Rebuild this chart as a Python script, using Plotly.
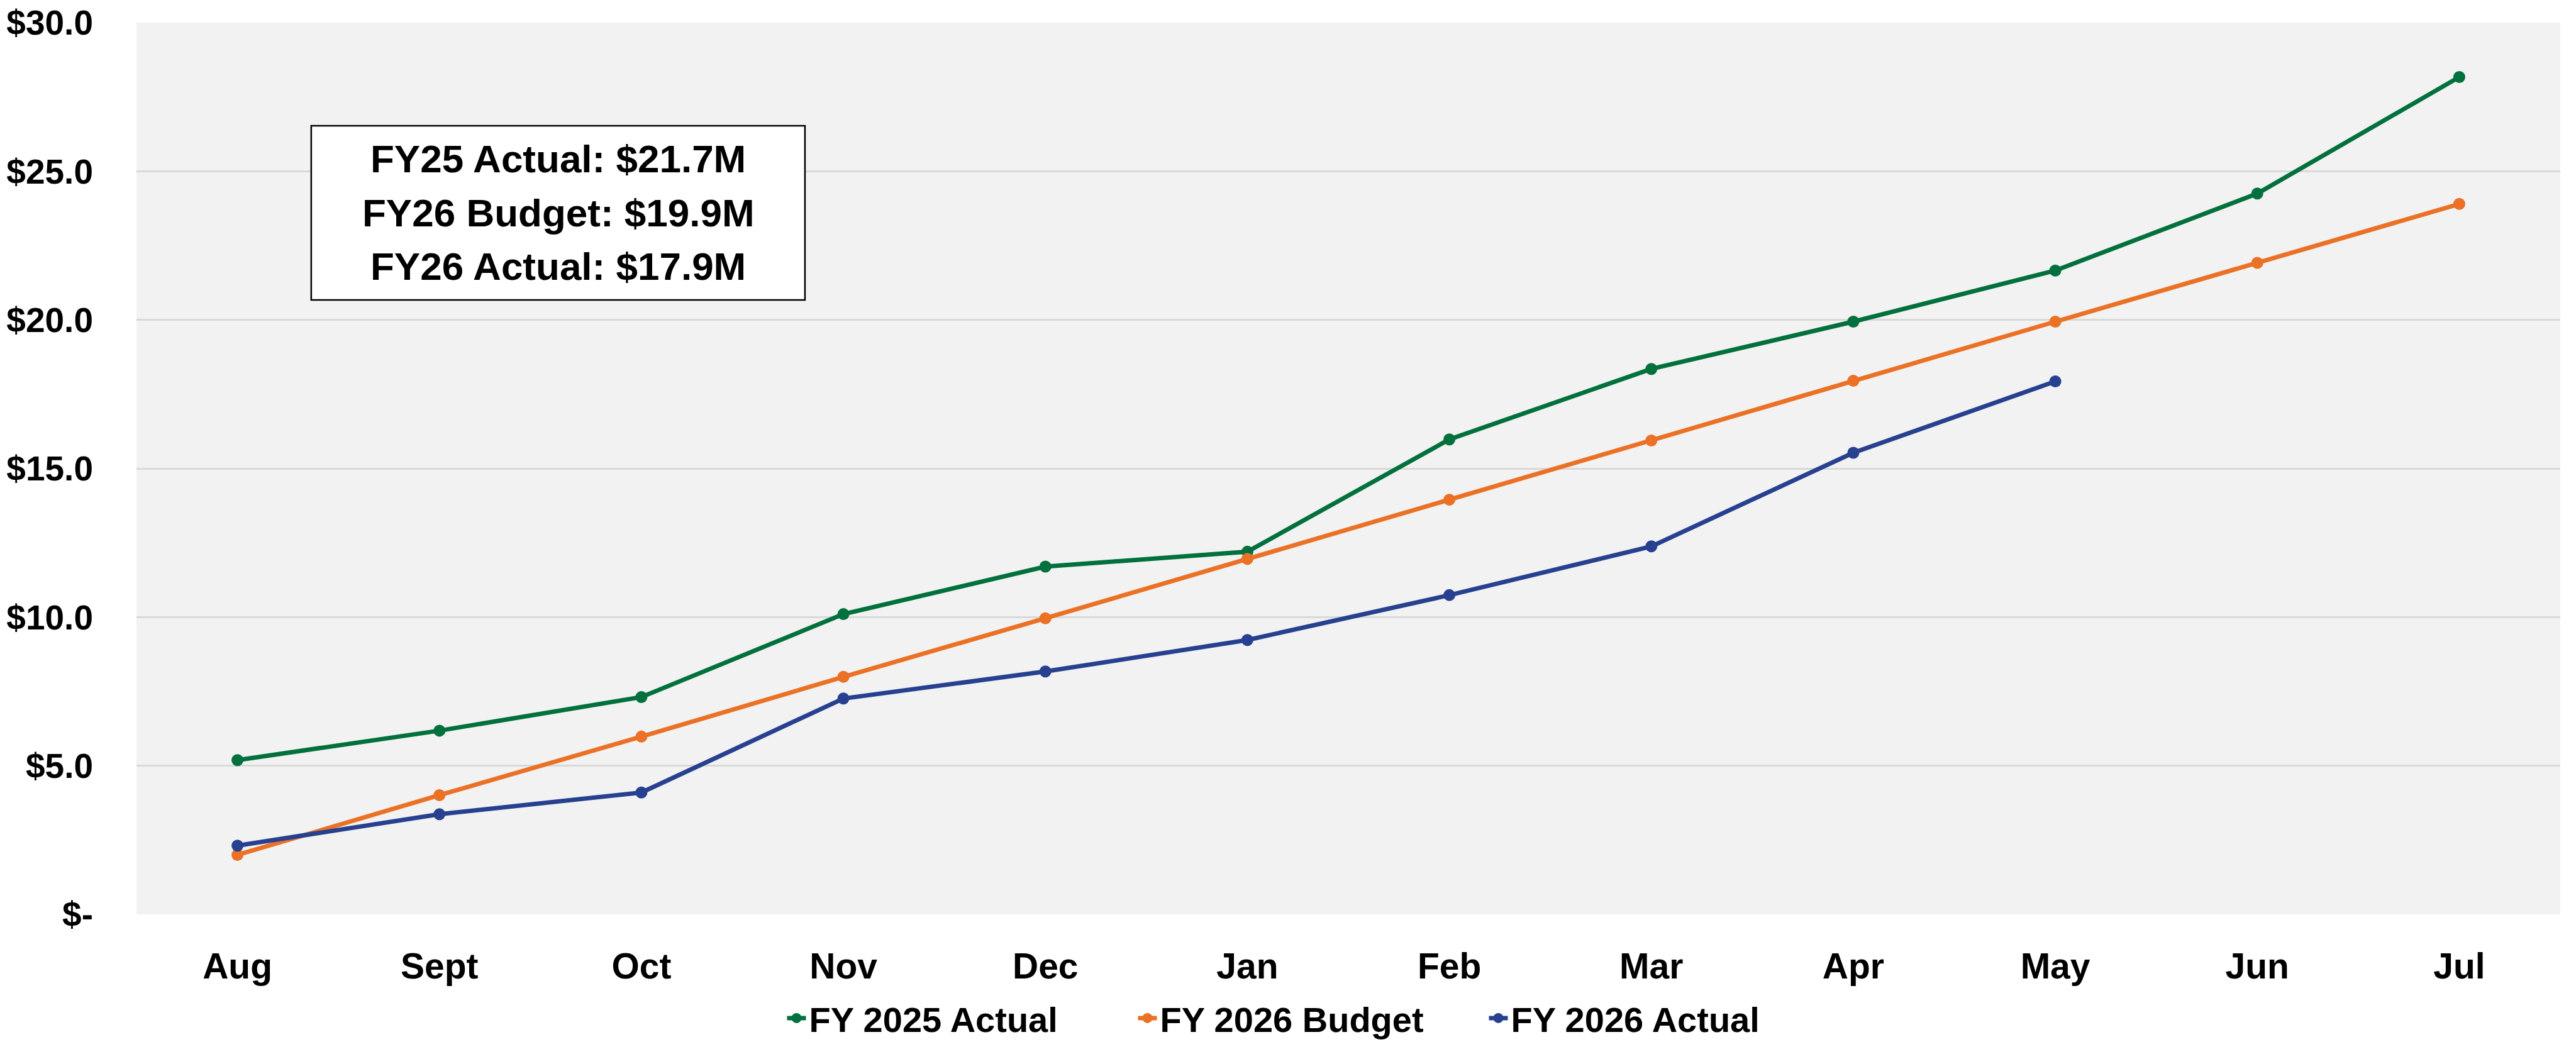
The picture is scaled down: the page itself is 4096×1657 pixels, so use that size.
import plotly.graph_objects as go

months = ["Aug", "Sept", "Oct", "Nov", "Dec", "Jan", "Feb", "Mar", "Apr", "May", "Jun", "Jul"]
fy25_actual = [5.19, 6.18, 7.31, 10.10, 11.70, 12.20, 15.98, 18.35, 19.94, 21.66, 24.25, 28.17]
fy26_budget = [2.00, 4.01, 5.98, 7.99, 9.96, 11.96, 13.95, 15.94, 17.95, 19.94, 21.92, 23.90]
fy26_actual = [2.31, 3.37, 4.10, 7.26, 8.17, 9.23, 10.74, 12.38, 15.53, 17.93, None, None]

series_names = ["FY 2025 Actual", "FY 2026 Budget", "FY 2026 Actual"]
series_colors = ["#00703C", "#EA7125", "#27408F"]

y_tickvals = [0, 5, 10, 15, 20, 25, 30]
y_ticktext = ["$-", "$5.0", "$10.0", "$15.0", "$20.0", "$25.0", "$30.0"]

box_lines = ["FY25 Actual: $21.7M", "FY26 Budget: $19.9M", "FY26 Actual: $17.9M"]

FONT = "Liberation Sans, Arial, sans-serif"

fig = go.Figure()
for name, vals, col in zip(series_names, [fy25_actual, fy26_budget, fy26_actual], series_colors):
    fig.add_trace(go.Scatter(
        x=months, y=vals, name=name, mode="lines+markers",
        line=dict(color=col, width=7),
        marker=dict(color=col, size=19, symbol="circle"),
        connectgaps=False,
    ))

W, H = 4096, 1657
ml, mr, mt, mb = 217, 25, 36, 203

fig.update_layout(
    width=W, height=H,
    margin=dict(l=ml, r=mr, t=mt, b=mb, pad=0, autoexpand=False),
    paper_bgcolor="white",
    plot_bgcolor="#F2F2F2",
    font=dict(family=FONT, color="black", size=55, weight="bold"),
    showlegend=True,
    legend=dict(
        orientation="h", x=0.4843, xanchor="center", y=-0.1164, yanchor="middle",
        font=dict(family=FONT, size=56, color="black", weight="bold"),
        bgcolor="rgba(0,0,0,0)", itemwidth=30,
        entrywidth=513, entrywidthmode="pixels",
    ),
    xaxis=dict(
        type="category", range=[-0.5, 11.5],
        showgrid=False, zeroline=False,
        showline=False, ticks="", automargin=False,
        tickfont=dict(family=FONT, size=57, color="black", weight="bold"),
        ticklabelstandoff=44,
    ),
    yaxis=dict(
        range=[0, 30], tickvals=y_tickvals, ticktext=y_ticktext,
        showgrid=True, gridcolor="#D9D9D9", gridwidth=2.5,
        zeroline=False, showline=False, ticks="", automargin=False,
        tickfont=dict(family=FONT, size=55, color="black", weight="bold"),
        ticklabelstandoff=68,
    ),
    hovermode=False,
)

# summary box
fig.add_shape(type="rect", xref="paper", yref="paper",
              x0=0.0721, x1=0.2758, y0=0.689, y1=0.8843,
              line=dict(color="black", width=2.5), fillcolor="white", layer="above")
for txt, yy in zip(box_lines, [0.8470, 0.7866, 0.7264]):
    fig.add_annotation(xref="paper", yref="paper", x=0.174, y=yy,
                       text=txt, showarrow=False, xanchor="center", yanchor="middle",
                       font=dict(family=FONT, size=62, color="black", weight="bold"))

fig.write_html("out.html")
